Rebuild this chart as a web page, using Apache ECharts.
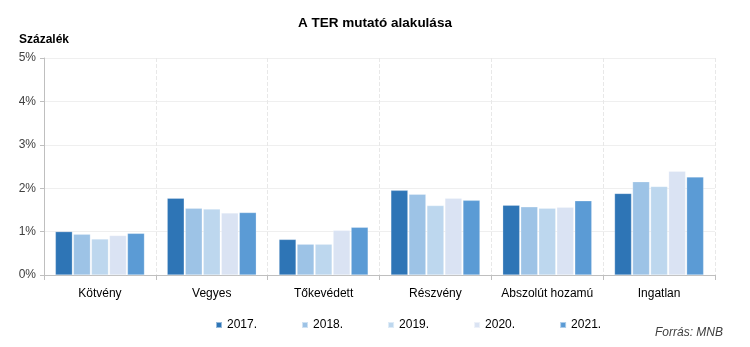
<!DOCTYPE html>
<html>
<head>
<meta charset="utf-8">
<script src="https://cdn.jsdelivr.net/npm/echarts@6/dist/echarts.min.js"></script>
<style>html,body{margin:0;padding:0;background:#fff}#c{width:750px;height:347px}</style>
</head>
<body>
<div id="c"></div>
<script>
const categories = ['Kötvény', 'Vegyes', 'Tőkevédett', 'Részvény', 'Abszolút hozamú', 'Ingatlan'];
const years = ['2017.', '2018.', '2019.', '2020.', '2021.'];
const v2017 = [1.00, 1.77, 0.82, 1.95, 1.61, 1.88];
const v2018 = [0.94, 1.54, 0.71, 1.86, 1.57, 2.15];
const v2019 = [0.83, 1.52, 0.71, 1.60, 1.54, 2.04];
const v2020 = [0.91, 1.43, 1.03, 1.77, 1.56, 2.39];
const v2021 = [0.96, 1.44, 1.10, 1.72, 1.71, 2.26];
const yTicks = ['0%', '1%', '2%', '3%', '4%', '5%'];
const colors = ['#2E75B6', '#9DC3E6', '#BDD7EE', '#DAE3F3', '#5B9BD5'];
const seriesData = [v2017, v2018, v2019, v2020, v2021];
const FONT = '"Liberation Sans", Arial, sans-serif';

const chart = echarts.init(document.getElementById('c'));
chart.setOption({
  animation: false,
  textStyle: { fontFamily: FONT },
  title: [
    { text: 'A TER mutató alakulása', left: 'center', top: 11,
      textStyle: { fontFamily: FONT, fontSize: 13.5, fontWeight: 'bold', color: '#000' } },
    { text: 'Százalék', left: 14, top: 29,
      textStyle: { fontFamily: FONT, fontSize: 12, fontWeight: 'bold', color: '#000' } },
    { text: 'Forrás: MNB', right: 22, top: 322,
      textStyle: { fontFamily: FONT, fontSize: 12, fontStyle: 'italic', fontWeight: 'normal', color: '#404040' } }
  ],
  legend: {
    left: 210, top: 314, itemWidth: 6, itemHeight: 6, itemGap: 44,
    icon: 'rect',
    textStyle: { fontFamily: FONT, fontSize: 12, color: '#000' },
    data: years
  },
  grid: { left: 44, right: 35, top: 58, bottom: 72 },
  xAxis: {
    type: 'category', data: categories,
    axisLine: { lineStyle: { color: '#bfbfbf' } },
    axisTick: { show: true, interval: 0, length: 5, lineStyle: { color: '#bfbfbf' } },
    splitLine: { show: true, interval: 0, lineStyle: { color: '#e8e8e8', type: 'dashed' } },
    axisLabel: { interval: 0, fontFamily: FONT, fontSize: 12, color: '#000', margin: 13 }
  },
  yAxis: {
    type: 'value', min: 0, max: 5, interval: 1,
    axisLine: { show: true, lineStyle: { color: '#bfbfbf' } },
    axisTick: { show: true, length: 4, lineStyle: { color: '#bfbfbf' } },
    splitLine: { lineStyle: { color: '#efefef' } },
    axisLabel: { fontFamily: FONT, fontSize: 12, color: '#404040', margin: 8,
      formatter: (v) => yTicks[Math.round(v)] }
  },
  series: years.map((y, i) => ({
    name: y, type: 'bar', data: seriesData[i], barWidth: 17, barGap: '6%',
    itemStyle: { color: colors[i], borderColor: 'rgba(255,255,255,0.5)', borderWidth: 0.5 }
  }))
});
</script>
</body>
</html>
